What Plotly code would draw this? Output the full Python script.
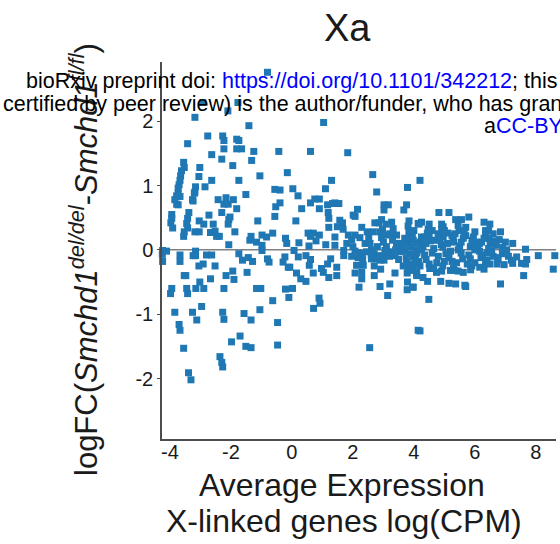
import plotly.graph_objects as go

# ---- data: average expression (logCPM) and logFC ----
left_top_x = [-2.76,-0.80,-2.92,-1.77,-2.10,-3.18,-1.41,-2.76,-2.27,-2.23,-1.81,-1.74,-3.42,-2.23,-1.81,-1.65,-1.25,-0.43,-2.63,-2.30,-1.32,-3.55,-1.94,-3.53,-3.02,-3.62,-0.15,-3.65,-3.05,-1.05,-3.67,-2.63,-1.74,-3.70,-3.16,-2.85,-3.73,-0.56,-0.39,-3.18,-3.73,-1.51,-3.78,-3.20,-2.42,-2.16,-1.92,-3.26,-3.84,-3.67,-2.23,-2.09,-3.78,-3.73,-0.39,-1.81,-0.53]
left_top_y = [2.95,2.76,2.29,2.29,2.16,2.06,1.93,1.77,1.77,1.70,1.72,1.70,1.65,1.57,1.57,1.57,1.53,1.53,1.48,1.41,1.39,1.36,1.31,1.28,1.28,1.23,1.20,1.15,1.14,1.15,1.08,1.08,1.08,1.01,0.98,0.98,0.96,0.94,0.93,0.90,0.88,0.86,0.84,0.88,0.78,0.81,0.78,0.78,0.78,0.83,0.71,0.71,0.71,0.70,0.73,0.64,0.67]

left_mid_x = [-3.24,-3.94,-3.94,-3.97,-3.38,-3.42,-3.45,-2.72,-2.30,-2.03,-2.07,-0.56,-3.04,-2.89,-2.58,-2.09,-1.12,-3.91,-3.42,-3.53,-3.55,-3.18,-3.04,-2.67,-2.52,-2.38,-2.47,-1.87,-1.34,-1.38,-0.98,-0.83,-0.63,-1.16,-0.98,-0.98,-0.21,-0.17,-2.07]
left_mid_y = [0.76,0.55,0.49,0.42,0.58,0.49,0.41,0.54,0.58,0.51,0.47,0.52,0.45,0.40,0.40,0.40,0.45,0.34,0.34,0.28,0.21,0.28,0.28,0.27,0.29,0.21,0.21,0.28,0.21,0.15,0.23,0.20,0.26,0.12,0.07,-0.01,0.18,0.10,0.08]

left_low_x = [-4.24,-4.11,-4.25,-4.24,-3.67,-3.67,-3.16,-3.16,-3.24,-2.80,-2.63,-1.74,-1.62,-1.43,-1.29,-0.80,-0.75,-0.23,-0.29,-0.12,-2.91,-3.05,-2.52,-1.94,-2.16,-1.47,-3.53,-3.48,-2.67,-1.90,-3.02,-3.94,-3.98,-3.45,-3.42,-3.15,-2.89,-2.23,-1.16,-1.02,-0.21,-0.10,-0.63,-2.96,-1.05,-3.84,-3.26,-2.27,-1.57,-3.12,-2.23,-1.34,-0.47,-3.70,-3.67,-1.70,-1.98,-1.51,-1.34,-0.47,-3.55,-2.36,-2.30,-2.27,-3.39,-3.31,2.55]
left_low_y = [-0.01,-0.02,-0.07,-0.18,-0.08,-0.18,-0.02,-0.09,-0.09,-0.08,-0.08,-0.06,-0.16,-0.12,-0.18,-0.14,-0.19,-0.11,-0.19,-0.27,-0.22,-0.25,-0.25,-0.33,-0.40,-0.35,-0.40,-0.40,-0.45,-0.46,-0.50,-0.60,-0.68,-0.60,-0.68,-0.60,-0.60,-0.60,-0.60,-0.60,-0.61,-0.74,-0.79,-0.88,-0.93,-0.97,-0.97,-0.97,-0.99,-1.09,-1.08,-1.09,-1.13,-1.16,-1.25,-1.34,-1.43,-1.50,-1.52,-1.48,-1.53,-1.66,-1.75,-1.82,-1.91,-2.02,-1.52]

mid_top_x = [1.04,0.61,1.83,1.30,2.65,0.03,1.10,3.79,4.20,2.78,0.20,0.75,0.90,0.61,1.17,1.33,1.41,1.54,0.32,0.90,2.15,3.02,3.16,3.76,3.67]
mid_top_y = [1.98,1.53,1.51,1.08,1.17,0.95,0.95,0.97,1.08,0.90,0.84,0.79,0.79,0.73,0.70,0.72,0.73,0.72,0.64,0.64,0.63,0.70,0.70,0.70,0.62]

mid_pos_x = [3.02,1.19,1.21,2.01,2.07,0.13,1.57,1.66,2.94,2.72,2.86,3.10,3.27,3.84,4.14,1.21,1.49,1.68,2.29,2.97,3.32,3.81,3.84,0.53,0.70,0.90,0.61,0.79,1.41,1.41,1.85,2.07,2.23,1.96,2.47,2.67,2.52,2.56,2.89,2.94,3.10,3.21,3.43,0.23,0.56,1.11,3.43,3.76,3.98,4.09]
mid_pos_y = [0.62,0.58,0.49,0.54,0.52,0.45,0.46,0.42,0.47,0.42,0.42,0.40,0.43,0.45,0.41,0.35,0.36,0.32,0.35,0.32,0.33,0.37,0.28,0.26,0.26,0.23,0.21,0.14,0.20,0.07,0.23,0.23,0.19,0.16,0.28,0.28,0.18,0.10,0.28,0.19,0.23,0.25,0.23,0.11,0.06,0.08,0.10,0.10,0.15,0.10]

mid_neg_x = [0.07,1.70,1.70,2.07,2.25,1.96,2.17,2.32,2.45,2.61,2.70,2.78,2.61,2.89,3.05,3.10,3.27,3.38,3.54,3.70,3.87,3.98,4.09,0.21,0.46,0.61,1.27,1.17,3.02,2.89,3.76,3.92,4.09,-0.07,0.57,1.47,2.12,2.34,2.91,3.81,3.98,4.09,0.15,0.29,0.46,0.70,0.97,1.03,1.21,1.47,2.07,2.29,2.29,2.70,3.38,3.78,0.02,2.20,2.89,3.21,3.79,3.98,3.78,0.89,0.92,3.14,0.71,4.14]
mid_neg_y = [-0.01,-0.01,-0.09,-0.02,-0.05,-0.10,-0.12,-0.14,-0.03,0.00,-0.06,-0.14,-0.14,-0.09,-0.01,-0.06,-0.03,-0.09,-0.03,-0.01,-0.06,-0.11,-0.01,-0.11,-0.09,-0.15,-0.14,-0.22,-0.16,-0.16,-0.19,-0.22,-0.22,-0.27,-0.24,-0.27,-0.24,-0.24,-0.30,-0.27,-0.32,-0.37,-0.36,-0.45,-0.49,-0.36,-0.29,-0.35,-0.43,-0.40,-0.36,-0.35,-0.45,-0.40,-0.36,-0.36,-0.60,-0.58,-0.57,-0.53,-0.50,-0.58,-0.62,-0.75,-0.83,-0.71,-0.91,-1.25]

right_x = [4.82,5.15,5.37,5.56,5.80,5.45,5.48,6.30,6.49,6.35,6.35,6.84,4.25,4.17,4.50,4.47,4.44,4.91,4.96,4.91,5.12,3.92,4.25,4.50,4.80,4.96,5.29,5.62,5.92,6.22,6.46,6.80,7.24,6.91,7.04,7.66,8.08,8.62,7.70,7.53,7.66,7.37,7.20,7.24,6.73,6.96,6.76,8.57,7.60,6.84,5.67,5.70,5.37,5.15,4.88,4.45,4.30,3.96,4.09,4.49,4.20,5.62,5.86,6.16,6.49,6.38,4.74,4.91,4.52,4.09,3.92,5.34,5.45]
right_y = [0.58,0.58,0.47,0.47,0.51,0.38,0.30,0.43,0.40,0.30,0.25,0.28,0.43,0.40,0.40,0.32,0.25,0.40,0.36,0.32,0.26,0.20,0.20,0.21,0.20,0.20,0.18,0.18,0.15,0.12,0.18,0.16,0.10,0.04,0.00,0.01,-0.09,-0.09,-0.15,-0.21,-0.22,-0.11,-0.16,-0.21,-0.22,-0.23,-0.15,-0.30,-0.40,-0.53,-0.55,-0.57,-0.53,-0.52,-0.49,-0.49,-0.43,-0.58,-0.40,-0.77,-1.26,-0.35,-0.31,-0.27,-0.22,-0.16,-0.35,-0.33,-0.29,-0.35,-0.29,-0.32,-0.33]

core_x = [4.30,4.60,4.90,5.20,5.50,5.80,6.10,6.40,6.70,
          4.40,4.70,5.00,5.30,5.60,5.90,6.20,6.50,6.90,
          4.20,4.50,4.80,5.10,5.40,5.70,6.00,6.30,6.60,
          4.10,4.35,4.65,4.95,5.25,5.55,5.85,6.15,6.45,6.75,
          3.60,3.50,3.30,3.20,2.80,3.00,2.60,2.40,2.00,1.80,3.70,3.90,
          5.00,5.30,5.70,6.00,4.60,4.20,5.90,6.30,6.60,7.00,7.10]
core_y = [0.05,-0.05,0.08,-0.02,0.06,-0.08,0.03,-0.05,0.07,
          -0.15,0.15,-0.18,0.12,-0.14,0.10,-0.12,0.09,-0.06,
          0.12,-0.22,-0.10,0.10,-0.20,0.22,-0.20,0.18,-0.10,
          -0.05,0.20,0.02,-0.25,0.22,-0.05,0.05,-0.02,0.02,-0.12,
          0.05,-0.15,0.15,-0.10,0.05,0.12,-0.08,0.10,0.05,0.10,0.18,0.05,
          0.30,-0.28,0.35,0.28,0.30,-0.25,-0.25,-0.30,0.25,0.12,-0.10]

core2_x = [3.55,3.75,3.95,4.15,4.35,4.55,4.75,4.95,5.15,5.35,5.55,5.75,5.95,6.15,6.35,6.55,
           3.65,3.85,4.05,4.25,4.45,4.65,4.85,5.05,5.25,5.45,5.65,5.85,6.05,6.25,6.45,6.65,
           4.00,4.40,4.80,5.20,5.60,6.00,6.40,
           3.40,2.70,2.30,3.10]
core2_y = [0.10,-0.12,0.22,-0.18,-0.08,0.14,-0.20,0.04,-0.12,0.25,0.12,-0.22,0.20,0.10,-0.20,-0.02,
           -0.25,0.28,-0.15,0.00,0.26,-0.28,0.15,-0.06,-0.18,0.00,0.28,-0.14,0.12,-0.08,0.30,0.14,
           0.30,0.10,0.25,-0.32,0.30,0.00,-0.18,
           0.00,-0.25,-0.10,0.05]

x_ticks = [-4, -2, 0, 2, 4, 6, 8]
x_ticktext = ["-4", "-2", "0", "2", "4", "6", "8"]
y_ticks = [-2, -1, 0, 1, 2]
y_ticktext = ["-2", "-1", "0", "1", "2"]

avg_expr = (left_top_x + left_mid_x + left_low_x + mid_top_x + mid_pos_x
            + mid_neg_x + right_x + core_x + core2_x)
log_fc = (left_top_y + left_mid_y + left_low_y + mid_top_y + mid_pos_y
          + mid_neg_y + right_y + core_y + core2_y)

FONT = "Liberation Sans, Arial, sans-serif"
TXT = "#1a1a1a"
AX = "#4d4d4d"

fig = go.Figure(go.Scatter(
    x=avg_expr, y=log_fc, mode="markers",
    marker=dict(symbol="square", size=7, color="#1f78b4", line=dict(width=0)),
    cliponaxis=False, hoverinfo="skip",
))

# plot area in pixels
L, T, W, H = 162, 62, 394, 377
def px(x):
    return (x - L) / W
def py(y):
    return (T + H - y) / H

fig.update_layout(
    width=560, height=544,
    margin=dict(l=L, r=560 - L - W, t=T, b=544 - T - H, pad=0),
    paper_bgcolor="white", plot_bgcolor="white",
    showlegend=False,
    font=dict(family=FONT, color=TXT),
    xaxis=dict(range=[-4.26, 8.66], tickvals=x_ticks, ticktext=x_ticktext,
               showline=True, linecolor=AX, linewidth=1.5, ticks="",
               ticklabelstandoff=-6, showgrid=False, zeroline=False,
               tickfont=dict(size=20, color=TXT)),
    yaxis=dict(range=[-2.94, 2.92], tickvals=y_ticks, ticktext=y_ticktext,
               showline=True, linecolor=AX, linewidth=1.5, ticks="outside",
               ticklen=3, tickcolor=AX, showgrid=False, zeroline=False,
               tickfont=dict(size=20, color=TXT)),
    shapes=[dict(type="line", xref="paper", x0=0, x1=1, yref="y", y0=0, y1=0,
                 line=dict(color="#808080", width=1.5), layer="below")],
)

OVER = dict(size=21.5, color="#000000", family="Liberation Sans, Arial")
ann = []
ann.append(dict(text="Xa", x=px(347), y=py(28), xanchor="center", yanchor="middle",
                font=dict(size=38, color=TXT)))
ann.append(dict(text="Average Expression", x=px(342), y=py(485), xanchor="center",
                yanchor="middle", font=dict(size=32, color=TXT)))
ann.append(dict(text="X-linked genes log(CPM)", x=px(344), y=py(521), xanchor="center",
                yanchor="middle", font=dict(size=32, color=TXT)))
ann.append(dict(text="logFC(<i>Smchd1</i><sup><i>del/del</i></sup>-<i>Smchd1</i><sup><i>fl/fl</i></sup>)",
                x=px(84), y=py(260), xanchor="center", yanchor="middle", textangle=-90,
                font=dict(size=31, color=TXT)))
ann.append(dict(text='bioRxiv preprint doi: <span style="color:#0000ff">https://doi.org/10.1101/342212</span>; this version posted June 8, 2018. The copyright holder for this preprint (which was not',
                x=px(24), y=py(81), xanchor="left", yanchor="middle", font=OVER))
ann.append(dict(text='certified by peer review) is the author/funder, who has granted bioRxiv a license to display the preprint in perpetuity. It is made available under',
                x=px(1), y=py(104), xanchor="left", yanchor="middle", font=OVER))
ann.append(dict(text='a<span style="color:#0000ff">CC-BY 4.0 International license</span>.',
                x=px(482), y=py(126), xanchor="left", yanchor="middle", font=OVER))
for a in ann:
    a.update(xref="paper", yref="paper", showarrow=False)
fig.update_layout(annotations=ann)

fig.write_html("out.html")
